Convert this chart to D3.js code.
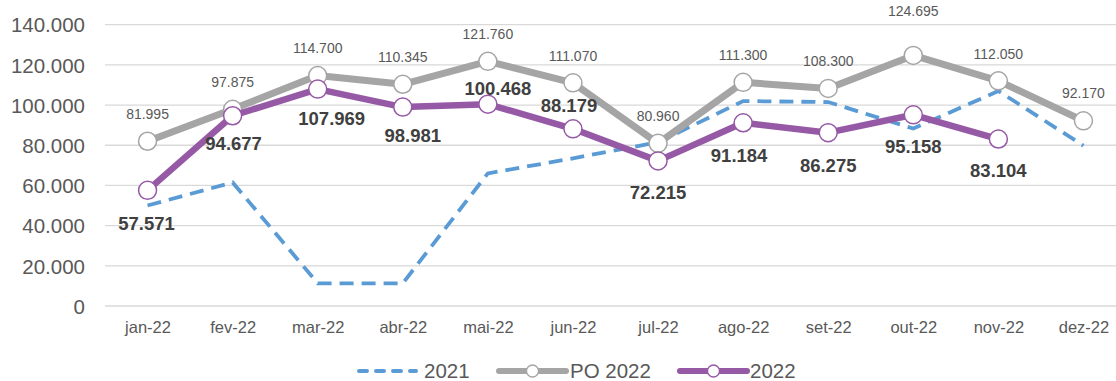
<!DOCTYPE html>
<html>
<head>
<meta charset="utf-8">
<script src="https://cdn.jsdelivr.net/npm/d3@7/dist/d3.min.js"></script>
<style>
  html, body { margin: 0; padding: 0; background: #ffffff; }
  svg { display: block; font-family: "Liberation Sans", Arial, sans-serif; }
</style>
</head>
<body>
<svg id="chart" width="1116" height="381"></svg>
<script>
// Months shown on the x axis
const months = ["jan-22", "fev-22", "mar-22", "abr-22", "mai-22", "jun-22",
                "jul-22", "ago-22", "set-22", "out-22", "nov-22", "dez-22"];

// Previous year (dashed, no labels)
const values2021 = [50000, 61500, 11300, 11300, 66000, 73500, 81500, 102000, 101500, 88300, 107000, 79800];

// Budget (PO 2022)
const valuesPO2022 = [81995, 97875, 114700, 110345, 121760, 111070, 80960, 111300, 108300, 124695, 112050, 92170];

// Actuals 2022 (through November)
const values2022 = [57571, 94677, 107969, 98981, 100468, 88179, 72215, 91184, 86275, 95158, 83104];

// Y axis ticks
const yTicks = [0, 20000, 40000, 60000, 80000, 100000, 120000, 140000];

// Series names for the legend
const seriesNames = ["2021", "PO 2022", "2022"];

// Label placement (pixel offsets from each point)
const poLabelDy = [-27, -27, -27, -27, -27, -27, -27, -27, -27, -44, -27, -28];
const actLabelDy = [33, 28, 29, 28, -16, -23, 32, 33, 33, 32, 32];
const actLabelDx = [-1, 1, 14, 10, 10, -4, 0, -4, 0, 0, 0];

const fmt = v => v === 0 ? "0" : d3.format(",")(v).replace(/,/g, ".");

const colors = { y2021: "#5b9bd5", po: "#a5a5a5", act: "#9659a5" };

const svg = d3.select("#chart");
const W = 1116;

const x = d3.scalePoint().domain(months).range([105, 1126]).padding(0.5);
const y = d3.scaleLinear().domain([0, 140000]).range([306, 24.7]);

// Gridlines
svg.append("g").selectAll("line").data(yTicks).join("line")
  .attr("x1", 105).attr("x2", W)
  .attr("y1", d => y(d)).attr("y2", d => y(d))
  .attr("stroke", "#d9d9d9").attr("stroke-width", 1.3);

// Y axis labels
const yAxis = d3.axisLeft(y).tickValues(yTicks).tickFormat(fmt).tickSize(0).tickPadding(0);
const gy = svg.append("g").attr("transform", "translate(85,0)").call(yAxis);
gy.select(".domain").remove();
gy.selectAll("text")
  .attr("fill", "#595959").attr("font-size", 20.5)
  .attr("font-family", "'Liberation Sans', Arial, sans-serif")
  .attr("dy", "0.35em");

// X axis labels
const xAxis = d3.axisBottom(x).tickSize(0).tickPadding(0);
const gx = svg.append("g").attr("transform", "translate(0,321)").call(xAxis);
gx.select(".domain").remove();
gx.selectAll("text")
  .attr("fill", "#595959").attr("font-size", 16.5)
  .attr("font-family", "'Liberation Sans', Arial, sans-serif")
  .attr("dy", "0.35em").attr("y", 6);

const line = d3.line().x((d, i) => x(months[i])).y(d => y(d));

// 2021 dashed
svg.append("path").datum(values2021)
  .attr("d", line).attr("fill", "none")
  .attr("stroke", colors.y2021).attr("stroke-width", 3.8)
  .attr("stroke-dasharray", "14,8");

// PO 2022
svg.append("path").datum(valuesPO2022)
  .attr("d", line).attr("fill", "none")
  .attr("stroke", colors.po).attr("stroke-width", 7).attr("stroke-linejoin", "round");
svg.append("g").selectAll("circle").data(valuesPO2022).join("circle")
  .attr("cx", (d, i) => x(months[i])).attr("cy", d => y(d)).attr("r", 9)
  .attr("fill", "#ffffff").attr("stroke", colors.po).attr("stroke-width", 1.5);

// 2022 actuals
svg.append("path").datum(values2022)
  .attr("d", line).attr("fill", "none")
  .attr("stroke", colors.act).attr("stroke-width", 6.5).attr("stroke-linejoin", "round");
svg.append("g").selectAll("circle").data(values2022).join("circle")
  .attr("cx", (d, i) => x(months[i])).attr("cy", d => y(d)).attr("r", 9)
  .attr("fill", "#ffffff").attr("stroke", colors.act).attr("stroke-width", 1.5);

// PO labels
svg.append("g").selectAll("text").data(valuesPO2022).join("text")
  .attr("x", (d, i) => x(months[i]))
  .attr("y", (d, i) => y(d) + poLabelDy[i])
  .attr("dy", "0.35em").attr("text-anchor", "middle")
  .attr("font-size", 14).attr("fill", "#595959")
  .text(fmt);

// 2022 labels
svg.append("g").selectAll("text").data(values2022).join("text")
  .attr("x", (d, i) => x(months[i]) + actLabelDx[i])
  .attr("y", (d, i) => y(d) + actLabelDy[i])
  .attr("dy", "0.35em").attr("text-anchor", "middle")
  .attr("font-size", 18.5).attr("font-weight", "bold").attr("fill", "#404040")
  .text(fmt);

// Legend
const ly = 371;
const legend = svg.append("g");
const items = [
  { name: seriesNames[0], x1: 359, x2: 416, tx: 424 },
  { name: seriesNames[1], x1: 499, x2: 566, tx: 570 },
  { name: seriesNames[2], x1: 680, x2: 747, tx: 750 }
];
// 2021
legend.append("line").attr("x1", items[0].x1).attr("x2", items[0].x2)
  .attr("y1", ly).attr("y2", ly).attr("stroke", colors.y2021)
  .attr("stroke-width", 4).attr("stroke-dasharray", "8,9").attr("stroke-linecap", "round");
// PO 2022
legend.append("line").attr("x1", items[1].x1).attr("x2", items[1].x2)
  .attr("y1", ly).attr("y2", ly).attr("stroke", colors.po)
  .attr("stroke-width", 6).attr("stroke-linecap", "round");
legend.append("circle").attr("cx", (items[1].x1 + items[1].x2) / 2).attr("cy", ly).attr("r", 6)
  .attr("fill", "#fff").attr("stroke", colors.po).attr("stroke-width", 1.3);
// 2022
legend.append("line").attr("x1", items[2].x1).attr("x2", items[2].x2)
  .attr("y1", ly).attr("y2", ly).attr("stroke", colors.act)
  .attr("stroke-width", 6).attr("stroke-linecap", "round");
legend.append("circle").attr("cx", (items[2].x1 + items[2].x2) / 2).attr("cy", ly).attr("r", 6)
  .attr("fill", "#fff").attr("stroke", colors.act).attr("stroke-width", 1.3);

legend.selectAll("text").data(items).join("text")
  .attr("x", d => d.tx).attr("y", ly).attr("dy", "0.35em")
  .attr("font-size", 20.5).attr("fill", "#595959")
  .text(d => d.name);
</script>
</body>
</html>
